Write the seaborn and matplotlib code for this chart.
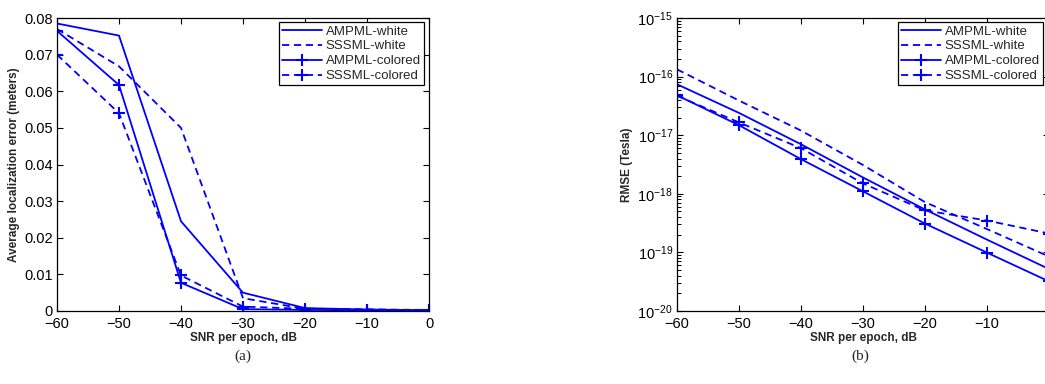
import numpy as np
import pandas as pd
import matplotlib
matplotlib.use("Agg")
import matplotlib.pyplot as plt
import matplotlib.ticker as mticker
import seaborn as sns

# ---------------- data ----------------
snr = [-60, -50, -40, -30, -20, -10, 0]

# panel (a): average localization error (meters)
a_ampml_white = [0.0785, 0.0752, 0.0245, 0.0050, 0.0008, 0.0004, 0.0002]
a_sssml_white = [0.0770, 0.0668, 0.0500, 0.0035, 0.0006, 0.0004, 0.0002]
a_ampml_colored = [0.0765, 0.0617, 0.0077, 0.0005, 0.0003, 0.0002, 0.0001]
a_sssml_colored = [0.0700, 0.0540, 0.0097, 0.0012, 0.0006, 0.0004, 0.0003]

# panel (b): RMSE (Tesla)
b_ampml_white = [7.4e-17, 2.4e-17, 7.0e-18, 1.9e-18, 5.4e-19, 1.65e-19, 5.2e-20]
b_sssml_white = [1.33e-16, 3.9e-17, 1.2e-17, 3.1e-18, 7.2e-19, 2.5e-19, 8.5e-20]
b_ampml_colored = [4.8e-17, 1.48e-17, 3.9e-18, 1.1e-18, 3.1e-19, 9.9e-20, 3.2e-20]
b_sssml_colored = [4.7e-17, 1.65e-17, 6.0e-18, 1.5e-18, 5.2e-19, 3.5e-19, 2.1e-19]

labels = ["AMPML-white", "SSSML-white", "AMPML-colored", "SSSML-colored"]
xticks = [-60, -50, -40, -30, -20, -10, 0]
xtick_labels_a = ["\u221260", "\u221250", "\u221240", "\u221230", "\u221220", "\u221210", "0"]
xtick_labels_b = ["\u221260", "\u221250", "\u221240", "\u221230", "\u221220", "\u221210", ""]
yticks_a = [0, 0.01, 0.02, 0.03, 0.04, 0.05, 0.06, 0.07, 0.08]
ytick_labels_a = ["0", "0.01", "0.02", "0.03", "0.04", "0.05", "0.06", "0.07", "0.08"]
decades_b = [-20, -19, -18, -17, -16, -15]

# ---------------- style ----------------
sns.set_style("ticks")
plt.rcParams["font.family"] = ["Liberation Sans", "DejaVu Sans"]
plt.rcParams["axes.unicode_minus"] = True
plt.rcParams["xtick.direction"] = "in"
plt.rcParams["ytick.direction"] = "in"

BLUE = (0, 0, 1)
DASH = (0, (4.0, 2.6))
styles = [
    dict(linestyle="-", marker=None),
    dict(linestyle=DASH, marker=None),
    dict(linestyle="-", marker="+"),
    dict(linestyle=DASH, marker="+"),
]

fig = plt.figure(figsize=(10.45, 3.84), dpi=100)
W, H = 1045.0, 384.0
axA = fig.add_axes([57 / W, 1 - 311 / H, 372 / W, 293 / H])
axB = fig.add_axes([677 / W, 1 - 311 / H, 372 / W, 293 / H])


def draw(ax, series):
    for ys, lab, st in zip(series, labels, styles):
        df = pd.DataFrame({"snr": snr, "val": ys})
        sns.lineplot(data=df, x="snr", y="val", ax=ax, color=BLUE,
                     linewidth=1.3, linestyle=st["linestyle"],
                     marker=st["marker"], markersize=8, markeredgewidth=1.5,
                     markeredgecolor=BLUE, label=lab, clip_on=True)


draw(axA, [a_ampml_white, a_sssml_white, a_ampml_colored, a_sssml_colored])
draw(axB, [b_ampml_white, b_sssml_white, b_ampml_colored, b_sssml_colored])

tick_fs = 10.5
label_fs = 8.5

for ax, xl in ((axA, xtick_labels_a), (axB, xtick_labels_b)):
    ax.set_xlim(-60, 0)
    ax.set_xticks(xticks)
    ax.set_xticklabels(xl)
    ax.set_xlabel("SNR per epoch, dB", fontsize=label_fs, fontweight="bold", labelpad=1)
    for s in ax.spines.values():
        s.set_visible(True)
        s.set_color("black")
        s.set_linewidth(0.9)
    ax.tick_params(which="both", direction="in", top=True, right=True,
                   colors="black")
    ax.tick_params(which="major", length=4, width=0.8, labelsize=tick_fs)
    ax.tick_params(axis="x", which="major", pad=4)
    ax.tick_params(axis="y", which="major", pad=3)

axA.set_ylim(0, 0.08)
axA.set_yticks(yticks_a)
axA.set_yticklabels(ytick_labels_a)
axA.set_ylabel("Average localization error (meters)", fontsize=label_fs,
               fontweight="bold", labelpad=3)

axB.set_yscale("log")
axB.set_ylim(1e-20, 1e-15)
axB.yaxis.set_major_locator(mticker.FixedLocator([10.0 ** d for d in decades_b]))
axB.yaxis.set_major_formatter(mticker.LogFormatterSciNotation())
minor_pos = [m * 10.0 ** d for d in decades_b[:-1] for m in range(2, 10)]
axB.yaxis.set_minor_locator(mticker.FixedLocator(minor_pos))
axB.yaxis.set_minor_formatter(mticker.NullFormatter())
axB.tick_params(axis="y", which="minor", left=True, right=True, direction="in",
                length=3, width=0.7, color="black")
axB.set_ylabel("RMSE (Tesla)", fontsize=label_fs, fontweight="bold", labelpad=3)

leg_kw = dict(fontsize=9.5, frameon=True, fancybox=False, handlelength=3.0,
              labelspacing=0.2, borderpad=0.25, handletextpad=0.3,
              borderaxespad=0.0, framealpha=1)
la = axA.legend(loc="upper right", bbox_to_anchor=(424 / W, 1 - 22 / H),
                bbox_transform=fig.transFigure, **leg_kw)
lb = axB.legend(loc="upper right", bbox_to_anchor=(1043 / W, 1 - 22 / H),
                bbox_transform=fig.transFigure, **leg_kw)
for lg in (la, lb):
    lg.get_frame().set_edgecolor("black")
    lg.get_frame().set_linewidth(0.9)

fig.text(243 / W, 1 - 356 / H, "(a)", ha="center", va="center",
         fontsize=11, family=["Liberation Serif", "DejaVu Serif"])
fig.text(860 / W, 1 - 356 / H, "(b)", ha="center", va="center",
         fontsize=11, family=["Liberation Serif", "DejaVu Serif"])

fig.savefig("out.png", dpi=100)
